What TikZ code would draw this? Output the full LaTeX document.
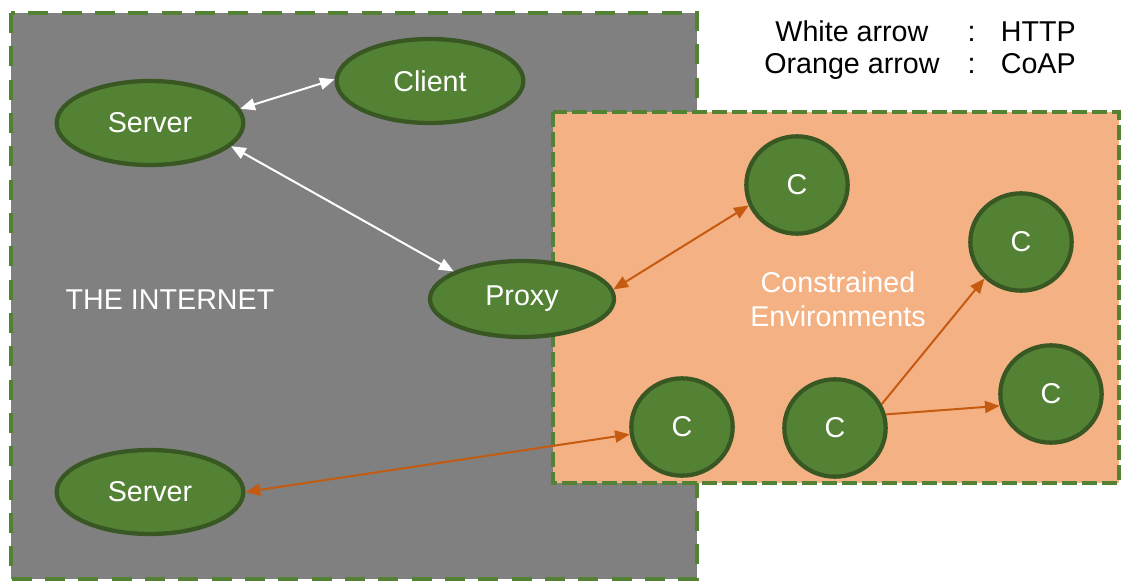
\documentclass[tikz,border=0pt]{standalone}
\usepackage{fontspec}
\setmainfont{Liberation Sans}
\usetikzlibrary{shapes.geometric, arrows.meta}

\definecolor{netgray}{RGB}{128,128,128}
\definecolor{envorange}{RGB}{244,177,131}
\definecolor{nodegreen}{RGB}{84,130,53}
\definecolor{darkgreen}{RGB}{56,87,35}
\definecolor{coaporange}{RGB}{197,90,17}

\begin{document}
\begin{tikzpicture}[x=0.75pt,y=0.75pt,yscale=-1,xscale=1,
  every node/.style={font=\fontsize{21.5}{25.5}\selectfont},
  hostnode/.style={ellipse, draw=darkgreen, fill=nodegreen, line width=3.2pt, text=white, minimum width=140pt, minimum height=63pt},
  cnode/.style={ellipse, draw=darkgreen, fill=nodegreen, line width=3.2pt, text=white, minimum width=76pt, minimum height=73pt},
  http/.style={draw=white, line width=1.5pt, {Triangle[length=11pt,width=9pt]}-{Triangle[length=11pt,width=9pt]}},
  coap/.style={draw=coaporange, line width=1.5pt, {Triangle[length=11pt,width=9pt]}-{Triangle[length=11pt,width=9pt]}},
  coapone/.style={draw=coaporange, line width=1.5pt, -{Triangle[length=11pt,width=9pt]}}
]
\useasboundingbox (0,0) rectangle (1121,581);

%Shape: Rectangle
\draw [draw=nodegreen, fill=netgray, line width=3pt, dash pattern=on 15pt off 10pt] (11,13) rectangle (697,579);
%Shape: Rectangle
\draw [draw=nodegreen, fill=envorange, line width=3pt, dash pattern=on 11pt off 4pt] (553,112) rectangle (1119,483);

% Text Node
\node (internet) at (170,300) [text=white] {THE INTERNET};
% Text Node
\node (envlabel) at (838,299) [text=white, align=center] {Constrained\\Environments};
% Text Node
\node (legend) at (920,51) [inner sep=0pt, font=\fontsize{21.5}{24}\selectfont]
  {\begin{tabular}{@{}c@{\hspace{21pt}}c@{\hspace{19pt}}c@{}}
   White arrow & : & HTTP\\
   Orange arrow & : & CoAP
   \end{tabular}};

%Shape: Ellipse
\node (server1) at (150,123) [hostnode] {Server};
\node (client) at (430,81) [hostnode] {Client};
\node (proxy) at (522,299) [hostnode, minimum width=138pt, minimum height=57pt] {Proxy};
\node (server2) at (150,492) [hostnode] {Server};

%Shape: Circle
\node (c1) at (797,185) [cnode] {C};
\node (c2) at (1021,242) [cnode] {C};
\node (c3) at (682,427) [cnode] {C};
\node (c4) at (835,428) [cnode] {C};
\node (c5) at (1051,394) [cnode] {C};

%Straight Lines
\draw [http] (server1.9) -- (client.179);
\draw [http] (server1.-16) -- (proxy.158);
\draw [coap] (proxy.6) -- (c1.-157);
\draw [coap] (server2.0) -- (c3.188);
\draw [coapone] (c4.27) -- (c2.225);
\draw [coapone] (c4.15) -- (c5.193);

\end{tikzpicture}
\end{document}
